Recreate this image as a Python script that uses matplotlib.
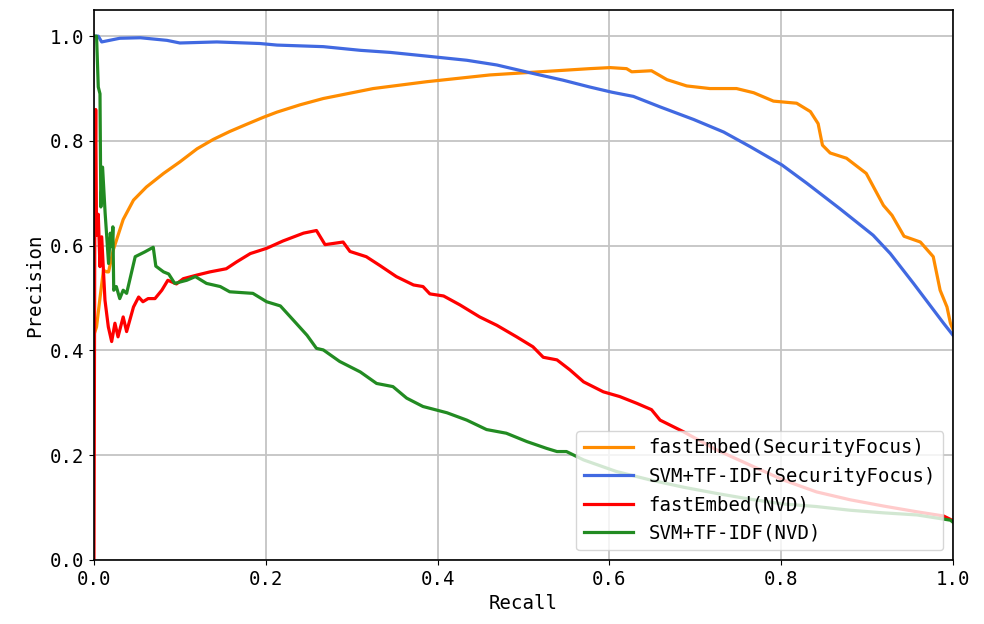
import matplotlib
matplotlib.use("Agg")
import matplotlib.pyplot as plt

# ---- data ----
orange_r = [0.0, 0.003, 0.007, 0.011, 0.015, 0.017, 0.0225, 0.034, 0.046, 0.061, 0.081, 0.10, 0.12, 0.139,
            0.158, 0.178, 0.197, 0.213, 0.24, 0.267, 0.325, 0.387, 0.461, 0.519, 0.577, 0.601, 0.620, 0.626,
            0.649, 0.667, 0.690, 0.717, 0.748, 0.768, 0.791, 0.818, 0.834, 0.843, 0.848, 0.857, 0.876, 0.899,
            0.919, 0.929, 0.943, 0.962, 0.977, 0.985, 0.993, 0.997, 1.0]
orange_p = [0.43, 0.445, 0.50, 0.553, 0.55, 0.55, 0.592, 0.650, 0.687, 0.712, 0.738, 0.760, 0.785, 0.803,
            0.818, 0.832, 0.845, 0.855, 0.869, 0.881, 0.900, 0.913, 0.926, 0.932, 0.938, 0.940, 0.938, 0.932,
            0.934, 0.917, 0.905, 0.900, 0.900, 0.892, 0.876, 0.872, 0.856, 0.833, 0.792, 0.777, 0.767, 0.738,
            0.677, 0.658, 0.618, 0.607, 0.579, 0.515, 0.483, 0.452, 0.44]

blue_r = [0.0, 0.005, 0.009, 0.030, 0.054, 0.085, 0.100, 0.143, 0.193, 0.213, 0.267, 0.310, 0.345, 0.387,
          0.434, 0.469, 0.508, 0.546, 0.577, 0.603, 0.628, 0.659, 0.698, 0.733, 0.764, 0.801, 0.830, 0.868,
          0.907, 0.927, 0.954, 0.989, 1.0]
blue_p = [1.0, 1.0, 0.989, 0.996, 0.997, 0.992, 0.987, 0.989, 0.986, 0.983, 0.980, 0.973, 0.969, 0.962,
          0.954, 0.945, 0.930, 0.916, 0.903, 0.893, 0.885, 0.865, 0.841, 0.817, 0.789, 0.754, 0.719, 0.671,
          0.620, 0.585, 0.528, 0.452, 0.429]

red_r = [0.0, 0.001, 0.002, 0.003, 0.005, 0.007, 0.009, 0.0128, 0.0167, 0.0206, 0.0244, 0.028, 0.034, 0.038,
         0.046, 0.052, 0.057, 0.063, 0.071, 0.079, 0.086, 0.096, 0.104, 0.120, 0.135, 0.154, 0.166, 0.182,
         0.201, 0.220, 0.244, 0.259, 0.269, 0.290, 0.298, 0.317, 0.333, 0.352, 0.372, 0.383, 0.391, 0.407,
         0.426, 0.449, 0.469, 0.492, 0.511, 0.523, 0.539, 0.554, 0.570, 0.593, 0.612, 0.632, 0.649, 0.659,
         0.686, 0.725, 0.764, 0.802, 0.841, 0.880, 0.919, 0.958, 0.989, 1.0]
red_p = [0.0, 0.67, 0.86, 0.62, 0.66, 0.56, 0.617, 0.496, 0.445, 0.417, 0.452, 0.426, 0.464, 0.436,
         0.483, 0.502, 0.493, 0.499, 0.499, 0.515, 0.534, 0.527, 0.537, 0.544, 0.550, 0.556, 0.569, 0.585,
         0.595, 0.609, 0.624, 0.629, 0.602, 0.607, 0.589, 0.579, 0.562, 0.541, 0.525, 0.522, 0.508, 0.504,
         0.487, 0.464, 0.448, 0.426, 0.407, 0.387, 0.382, 0.363, 0.340, 0.321, 0.312, 0.299, 0.287, 0.267,
         0.245, 0.210, 0.181, 0.153, 0.130, 0.115, 0.103, 0.092, 0.084, 0.075]

green_r = [0.0, 0.003, 0.005, 0.007, 0.008, 0.010, 0.013, 0.017, 0.019, 0.021, 0.022, 0.023, 0.026, 0.030,
           0.034, 0.038, 0.048, 0.059, 0.069, 0.072, 0.081, 0.087, 0.094, 0.108, 0.118, 0.131, 0.147, 0.158,
           0.185, 0.201, 0.217, 0.232, 0.248, 0.259, 0.267, 0.286, 0.310, 0.329, 0.348, 0.364, 0.383, 0.411,
           0.434, 0.457, 0.480, 0.504, 0.527, 0.539, 0.550, 0.570, 0.608, 0.647, 0.686, 0.725, 0.764, 0.802,
           0.841, 0.880, 0.919, 0.958, 0.997, 1.0]
green_p = [1.0, 1.0, 0.903, 0.89, 0.674, 0.75, 0.662, 0.566, 0.624, 0.598, 0.636, 0.515, 0.522, 0.499,
           0.515, 0.509, 0.579, 0.588, 0.597, 0.561, 0.550, 0.546, 0.528, 0.534, 0.541, 0.528, 0.522, 0.512,
           0.509, 0.493, 0.485, 0.458, 0.429, 0.404, 0.401, 0.379, 0.359, 0.337, 0.331, 0.309, 0.293, 0.281,
           0.267, 0.249, 0.242, 0.226, 0.213, 0.207, 0.207, 0.191, 0.169, 0.153, 0.139, 0.127, 0.116, 0.107,
           0.102, 0.095, 0.090, 0.086, 0.076, 0.072]

labels = ["fastEmbed(SecurityFocus)", "SVM+TF-IDF(SecurityFocus)", "fastEmbed(NVD)", "SVM+TF-IDF(NVD)"]
colors = ["darkorange", "royalblue", "red", "forestgreen"]

plt.rcParams['font.family'] = ['DejaVu Sans Mono']
FS = 13.7

fig = plt.figure(figsize=(9.84, 6.24), dpi=100)
ax = fig.add_axes([0.0955, 0.1026, 0.873, 0.8814])

series = [(orange_r, orange_p), (blue_r, blue_p), (red_r, red_p), (green_r, green_p)]
for (r, p), lab, c in zip(series, labels, colors):
    ax.plot(r, p, color=c, lw=2.3, label=lab)

ax.set_xlim(0, 1.0)
ax.set_ylim(0, 1.05)
ax.set_xticks([0.0, 0.2, 0.4, 0.6, 0.8, 1.0])
ax.set_yticks([0.0, 0.2, 0.4, 0.6, 0.8, 1.0])
ax.tick_params(labelsize=FS)
ax.grid(True, color='#c4c4c4', lw=1.3)
ax.set_axisbelow(True)
for s in ax.spines.values():
    s.set_linewidth(1.2)
ax.set_xlabel("Recall", fontsize=FS)
ax.set_ylabel("Precision", fontsize=FS)
ax.legend(loc='lower right', fontsize=FS, handlelength=2.6)

fig.savefig("out.png", dpi=100)
